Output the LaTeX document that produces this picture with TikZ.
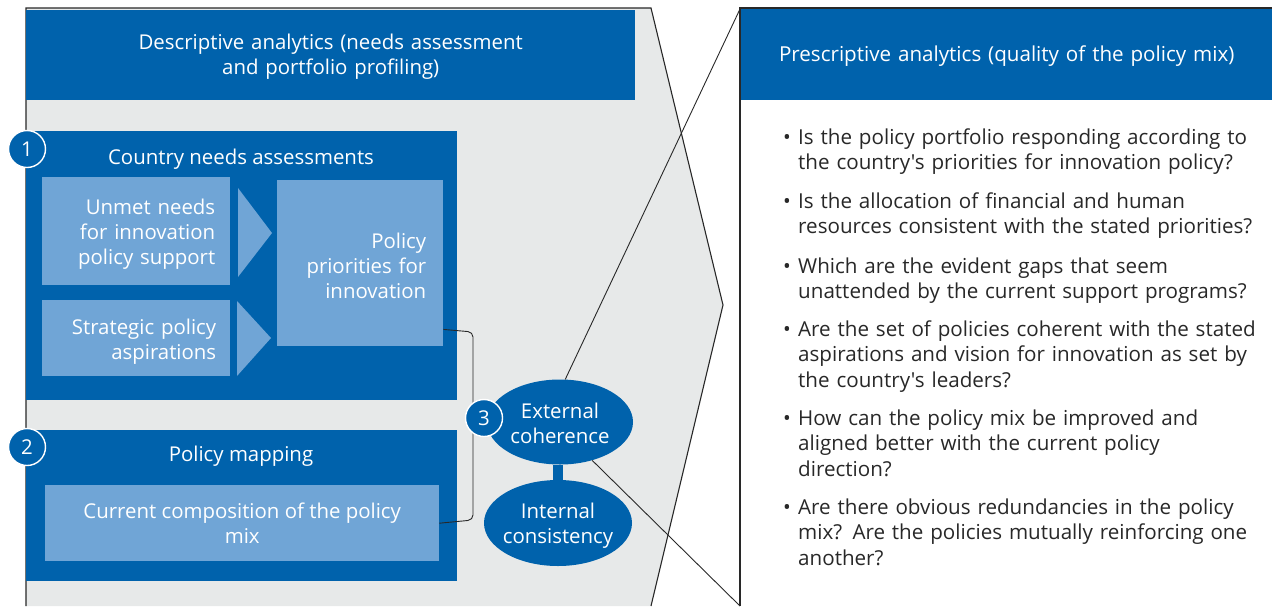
\documentclass[tikz,border=0pt]{standalone}
\usepackage{fontspec}
\setmainfont{Open Sans}
\newfontfamily\plainsans{Open Sans}
\usetikzlibrary{shapes.geometric}
\definecolor{dblue}{RGB}{0,98,172}
\definecolor{lblue}{RGB}{112,165,214}
\definecolor{gback}{RGB}{231,233,233}
\definecolor{edge}{RGB}{40,40,40}
\definecolor{txt}{RGB}{40,40,40}
\begin{document}
\begin{tikzpicture}[x=1pt,y=-1pt,
  lfont/.style={font=\fontsize{20.4}{25.2}\selectfont},
  rfont/.style={font=\plainsans\fontsize{20.6}{25.6}\selectfont},
  blk/.style={fill=dblue, inner sep=0pt, anchor=north west, text=white},
  subbox/.style={fill=lblue, inner sep=0pt, anchor=north west, text=white, lfont},
  oval/.style={ellipse, fill=dblue, inner ysep=0pt, inner xsep=-12pt, text=white, align=center, lfont, text width=112pt},
  num/.style={circle, fill=dblue, draw=white, line width=1.4pt, minimum size=37pt, inner sep=0pt, text=white, lfont},
  outline/.style={draw=edge, line width=1.1pt},
  conn/.style={draw=edge, line width=0.9pt},
  wtext/.style={text=white, lfont, inner sep=0pt, anchor=base},
  btext/.style={text=txt, rfont, inner sep=0pt, anchor=base west, text width=474pt, align=left},
  bul/.style={text=txt, rfont, inner sep=0pt, anchor=base},
]
\useasboundingbox (0,0) rectangle (1272,606);
% grey panel
\fill[gback] (26,8) -- (651,8) -- (723,305) -- (651,606) -- (26,606) -- cycle;
\draw[outline] (26,606) -- (26,8) -- (651,8) -- (723,305) -- (651,606);
% right panel
\fill[white] (740,8) rectangle (1272,606);
\draw[outline] (740,606) -- (740,8) -- (1272,8);
\node[blk, minimum width=531pt, minimum height=91pt, rfont, text width=520pt, align=center, text height=19pt] (hdrR) at (741,9)
  {Prescriptive analytics (quality of the policy mix)};
% left header
\node[blk, minimum width=609pt, minimum height=90pt, lfont, text width=600pt, align=center, text height=19pt] (hdrL) at (26,10)
  {Descriptive analytics (needs assessment\\and portfolio profiling)};
% box 1
\node[blk, minimum width=431pt, minimum height=269pt] (box1) at (26,131) {};
\node[wtext] (title1) at (241,164) {Country needs assessments};
\node[subbox, minimum width=188pt, minimum height=108pt, text width=158pt, align=right, text height=21.5pt] (unmet) at (42,177)
  {Unmet needs\\for innovation\\policy support};
\node[subbox, minimum width=188pt, minimum height=76pt, text width=160pt, align=right, text height=23pt] (strat) at (42,300)
  {Strategic policy\\aspirations};
\node[subbox, minimum width=166pt, minimum height=166pt, text width=132pt, align=right, text height=20.5pt] (prio) at (277,180)
  {Policy\\priorities for\\innovation};
\fill[lblue] (238,188) -- (272,233) -- (238,277) -- cycle;
\fill[lblue] (237,301) -- (271,338) -- (237,376) -- cycle;
% box 2
\node[blk, minimum width=431pt, minimum height=151pt] (box2) at (26,430) {};
\node[wtext] (title2) at (241,461) {Policy mapping};
\node[subbox, minimum width=394pt, minimum height=76pt, align=center] (comp) at (45,485)
  {Current composition of the policy\\mix};
% bracket
\coordinate (bt) at (473,332);
\coordinate (bb) at (473,520);
\draw[conn, rounded corners=5pt] ([yshift=17pt]prio.south east) -- (bt) -- (bb) -- (comp.east);
% ellipses
\node[oval, minimum width=146pt, minimum height=85pt, text height=18.5pt] (ext) at (560,422) {External\\coherence};
\node[oval, minimum width=148pt, minimum height=86pt, text height=21pt] (int) at (558,523) {Internal\\consistency};
\draw[dblue, line width=10pt] (int.north) -- (int.north |- ext.south);
\coordinate (rtl) at (740,9);
\coordinate (rbl) at (740,606);
\draw[conn] (ext.83) -- (rtl);
\draw[conn] (ext.-50) -- (rbl);
% numbers
\node[num] (n1) at (27,149) {1};
\node[num] (n2) at (27,447) {2};
\node[num] (n3) at (484,418) {3};
% bullets
\node[bul] (b1) at (787,144) {•};
\node[btext] (t1) at (798,144) {Is the policy portfolio responding according to\\the country's priorities for innovation policy?};
\node[bul] (b2) at (787,208) {•};
\node[btext] (t2) at (798,208) {Is the allocation of financial and human\\resources consistent with the stated priorities?};
\node[bul] (b3) at (787,273) {•};
\node[btext] (t3) at (798,273) {Which are the evident gaps that seem\\unattended by the current support programs?};
\node[bul] (b4) at (787,336) {•};
\node[btext] (t4) at (798,336) {Are the set of policies coherent with the stated\\aspirations and vision for innovation as set by\\the country's leaders?};
\node[bul] (b5) at (787,425) {•};
\node[btext] (t5) at (798,425) {How can the policy mix be improved and\\aligned better with the current policy\\direction?};
\node[bul] (b6) at (787,514) {•};
\node[btext] (t6) at (798,514) {Are there obvious redundancies in the policy\\mix? Are the policies mutually reinforcing one\\another?};
\end{tikzpicture}
\end{document}
